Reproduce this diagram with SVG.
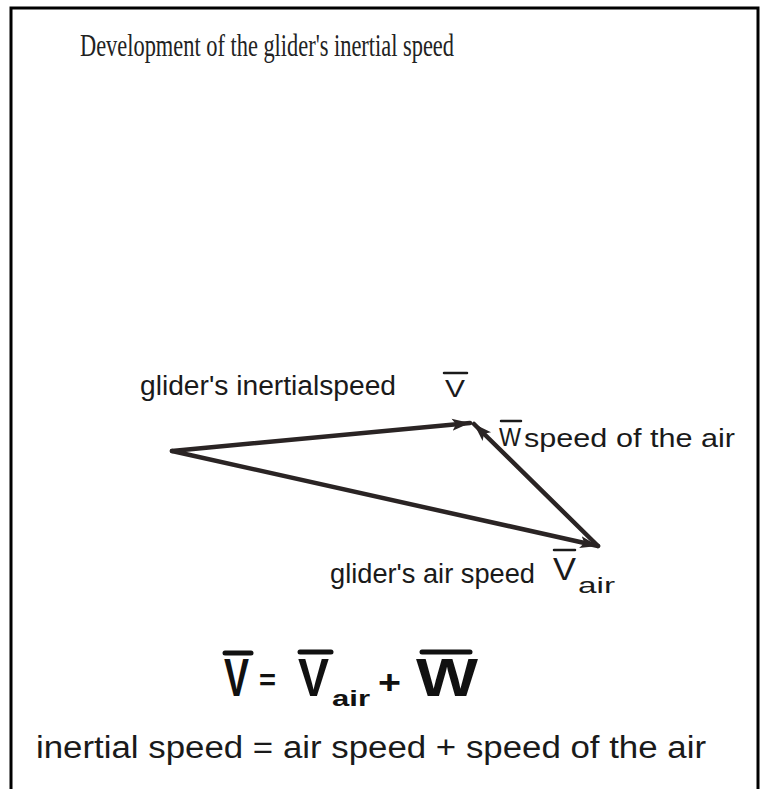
<svg xmlns="http://www.w3.org/2000/svg" width="764" height="789" viewBox="0 0 764 789">
<style>
.hand{font-family:"Liberation Sans","DejaVu Sans",sans-serif;fill:#1a1a1a}
.ov{stroke:#1a1a1a;stroke-width:2.5;stroke-linecap:round}
.vec{fill:none;stroke:#2a2424;stroke-width:4.5;stroke-linecap:round}
.big{font-family:"Liberation Sans","DejaVu Sans",sans-serif;font-weight:bold;fill:#111}
.ovb{stroke:#111;stroke-width:5;stroke-linecap:round}
</style>
<defs>
<marker id="ah" markerUnits="userSpaceOnUse" markerWidth="20" markerHeight="14" refX="18" refY="7" orient="auto">
<path d="M0,1 L18,7 L0,13 L4,7 Z" fill="#2a2424"/>
</marker>
</defs>
<rect width="764" height="789" fill="#fff"/>
<path d="M11,792 V8 H758 V792" fill="none" stroke="#000" stroke-width="3"/>
<g id="title">
<text x="80" y="56" font-family="Liberation Serif,serif" font-size="31" fill="#222" textLength="374" lengthAdjust="spacingAndGlyphs">Development of the glider's inertial speed</text>
</g>
<g id="connectors">
<line class="vec" x1="172" y1="451" x2="470" y2="423" marker-end="url(#ah)"/>
<line class="vec" x1="172" y1="451" x2="598" y2="546" marker-end="url(#ah)" stroke="#3a3333"/>
<line class="vec" x1="598" y1="546" x2="474" y2="424" marker-end="url(#ah)"/>
</g>
<g id="label-inertial">
<text class="hand" x="140" y="395" font-size="27" textLength="256" lengthAdjust="spacingAndGlyphs">glider's inertialspeed</text>
<line class="ov" x1="444" y1="373" x2="467" y2="373"/>
<text class="hand" x="445" y="397" font-size="24" textLength="20" lengthAdjust="spacingAndGlyphs">V</text>
</g>
<g id="label-wind">
<line class="ov" x1="501" y1="421" x2="521" y2="421"/>
<text class="hand" x="499" y="446" font-size="26" textLength="22" lengthAdjust="spacingAndGlyphs">W</text>
<text class="hand" x="524" y="447" font-size="26" textLength="211" lengthAdjust="spacingAndGlyphs">speed of the air</text>
</g>
<g id="label-air">
<text class="hand" x="330" y="583" font-size="27" textLength="205" lengthAdjust="spacingAndGlyphs">glider's air speed</text>
<line class="ov" x1="554" y1="550" x2="575" y2="550"/>
<text class="hand" x="553" y="580" font-size="32" textLength="23" lengthAdjust="spacingAndGlyphs">V</text>
<text class="hand" x="578" y="593" font-size="22" textLength="37" lengthAdjust="spacingAndGlyphs">air</text>
</g>
<g id="formula">
<line class="ovb" x1="225" y1="653" x2="251" y2="653"/>
<text class="big" x="224" y="696" font-size="54" textLength="25" lengthAdjust="spacingAndGlyphs">V</text>
<text class="big" x="259" y="690" font-size="30" textLength="17" lengthAdjust="spacingAndGlyphs">=</text>
<line class="ovb" x1="300" y1="652" x2="331" y2="652"/>
<text class="big" x="298" y="696" font-size="54" textLength="31" lengthAdjust="spacingAndGlyphs">V</text>
<text class="big" x="332" y="706" font-size="22" textLength="38" lengthAdjust="spacingAndGlyphs">air</text>
<text class="big" x="378" y="694" font-size="34" textLength="23" lengthAdjust="spacingAndGlyphs">+</text>
<line class="ovb" x1="422" y1="652" x2="470" y2="652"/>
<text class="big" x="416" y="696" font-size="54" textLength="62" lengthAdjust="spacingAndGlyphs">W</text>
</g>
<g id="sentence">
<text class="hand" x="36" y="758" font-size="31" textLength="670" lengthAdjust="spacingAndGlyphs">inertial speed = air speed + speed of the air</text>
</g>
</svg>
